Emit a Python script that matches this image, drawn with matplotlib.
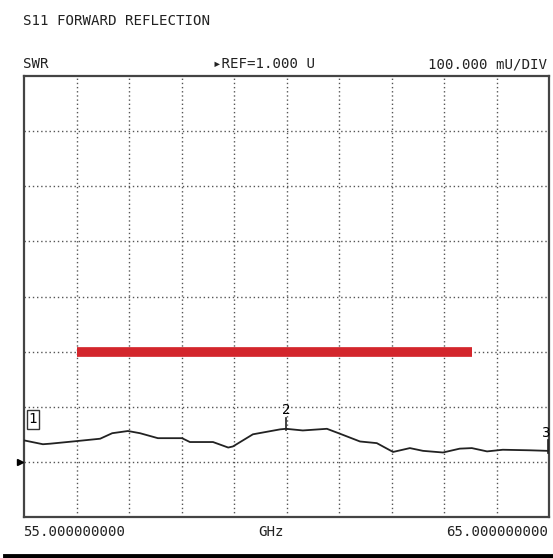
import matplotlib
matplotlib.use("Agg")
import matplotlib.pyplot as plt
from matplotlib.lines import Line2D

# Data
freq_ghz = [55.00, 55.36, 55.50, 55.93, 56.45, 56.68, 56.98, 57.21, 57.55, 58.01,
            58.16, 58.60, 58.89, 58.98, 59.36, 59.88, 59.99, 60.31, 60.77, 61.02,
            61.40, 61.72, 62.03, 62.35, 62.60, 62.98, 63.30, 63.53, 63.82, 64.12,
            64.64, 64.98]
swr = [1.039, 1.032, 1.033, 1.037, 1.042, 1.052, 1.056, 1.052, 1.043, 1.043,
       1.036, 1.036, 1.026, 1.028, 1.050, 1.059, 1.060, 1.057, 1.060, 1.051,
       1.037, 1.034, 1.018, 1.025, 1.020, 1.017, 1.024, 1.025, 1.019, 1.022,
       1.021, 1.020]
limit_freq = [56.0, 63.53]
limit_swr = [1.2, 1.2]
x_min, x_max = 55.0, 65.0
y_min, y_max = 0.9, 1.7
ref_value = 1.0

title = "S11 FORWARD REFLECTION"
left_hdr = "SWR"
mid_hdr = "\u25b8REF=1.000 U"
right_hdr = "100.000 mU/DIV"
x_start_lbl = "55.000000000"
x_unit_lbl = "GHz"
x_stop_lbl = "65.000000000"

W, H = 553, 558
fig = plt.figure(figsize=(W / 100, H / 100), dpi=100)
L, R, T, B = 24, 549, 76, 517
ax = fig.add_axes([L / W, 1 - B / H, (R - L) / W, (B - T) / H])
ax.set_xlim(x_min, x_max)
ax.set_ylim(y_min, y_max)

for v in [55 + i for i in range(1, 10)]:
    ax.axvline(v, color="#555555", lw=1.0, ls=(0, (1, 2)), zorder=1)
for v in [0.9 + 0.1 * i for i in range(1, 8)]:
    ax.axhline(v, color="#555555", lw=1.0, ls=(0, (1, 2)), zorder=1)

ax.set_xticks([])
ax.set_yticks([])
for s in ax.spines.values():
    s.set_color("#444444")
    s.set_linewidth(1.6)

ax.plot(freq_ghz, swr, color="#222222", lw=1.3, zorder=3)
ax.plot(limit_freq, limit_swr, color="#d3262c", lw=7, solid_capstyle="butt", zorder=4)

mono = "DejaVu Sans Mono"
fs = 10.2
# markers
ax.text(55.17, 1.077, "1", family=mono, fontsize=fs, ha="center", va="center",
        bbox=dict(boxstyle="square,pad=0.15", fc="white", ec="#333333", lw=1.0), zorder=5)
ax.plot([59.99, 59.99], [1.057, 1.079], color="#222222", lw=1.2, zorder=5)
ax.text(59.99, 1.095, "2", family=mono, fontsize=fs, ha="center", va="center", zorder=5)
ax.plot([64.98, 64.98], [1.017, 1.039], color="#222222", lw=1.2, zorder=5, clip_on=False)
ax.text(64.95, 1.052, "3", family=mono, fontsize=fs, ha="center", va="center", zorder=5)
ax.plot([54.92], [ref_value], marker=">", color="black", ms=5, clip_on=False, zorder=5)

# headers
fig.text(23 / W, 1 - 21 / H, title, family=mono, fontsize=fs, ha="left", va="center", color="#222222")
fig.text(23 / W, 1 - 64 / H, left_hdr, family=mono, fontsize=fs, ha="left", va="center", color="#222222")
fig.text(213 / W, 1 - 64 / H, mid_hdr, family=mono, fontsize=fs, ha="left", va="center", color="#222222")
fig.text(547 / W, 1 - 64 / H, right_hdr, family=mono, fontsize=fs, ha="right", va="center", color="#222222")
fig.text(23 / W, 1 - 532 / H, x_start_lbl, family=mono, fontsize=fs, ha="left", va="center", color="#222222")
fig.text(271 / W, 1 - 532 / H, x_unit_lbl, family=mono, fontsize=fs, ha="center", va="center", color="#222222")
fig.text(548 / W, 1 - 532 / H, x_stop_lbl, family=mono, fontsize=fs, ha="right", va="center", color="#222222")

fig.add_artist(Line2D([5 / W, 1.0], [1 - 556 / H, 1 - 556 / H], color="black", lw=3.5,
                      transform=fig.transFigure))

fig.savefig("out.png", dpi=100)
